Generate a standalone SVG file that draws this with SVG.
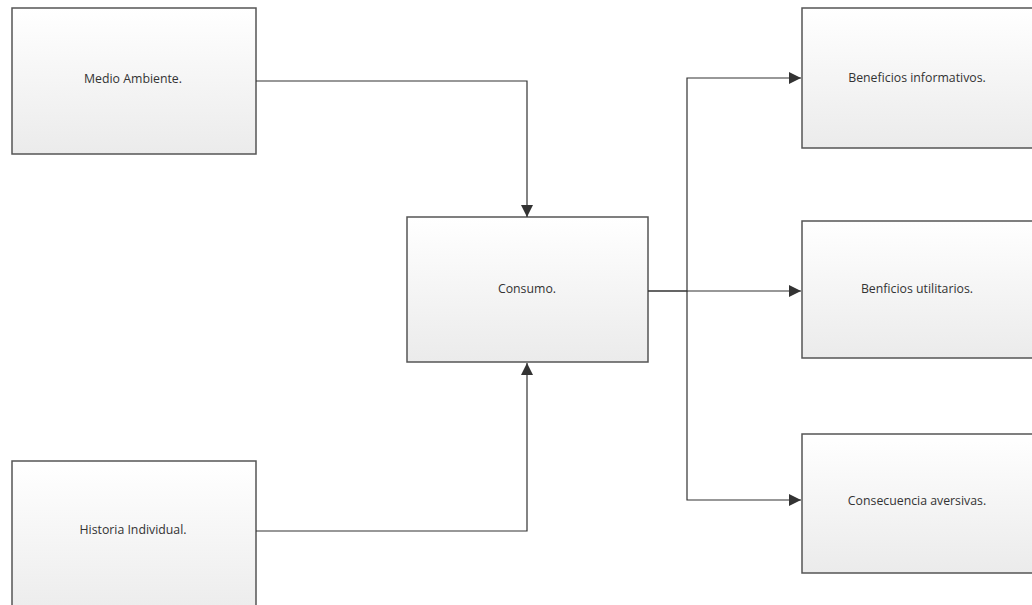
<svg xmlns="http://www.w3.org/2000/svg" width="1032" height="605" viewBox="0 0 1032 605">
<defs>
<linearGradient id="g" x1="0" y1="0" x2="0" y2="1">
<stop offset="0" stop-color="#ffffff"/>
<stop offset="1" stop-color="#ebebeb"/>
</linearGradient>
<marker id="arr" viewBox="0 0 10 10" refX="10" refY="5" markerWidth="12" markerHeight="12" markerUnits="userSpaceOnUse" orient="auto">
<path d="M0,0 L10,5 L0,10 z" fill="#333"/>
</marker>
<style>
.box{fill:url(#g);stroke:#555;stroke-width:1.5}
.lbl{font-family:"Open Sans","Noto Sans",sans-serif;font-size:12.3px;fill:#333;text-anchor:middle;dominant-baseline:middle}
.c{fill:none;stroke:#333;stroke-width:1.2;marker-end:url(#arr)}
</style>
</defs>
<rect width="1032" height="605" fill="#fff"/>
<g id="medio"><rect class="box" x="12" y="8" width="244" height="146"/><text class="lbl" x="133" y="80">Medio Ambiente.</text></g>
<g id="historia"><rect class="box" x="12" y="461" width="244" height="160"/><text class="lbl" x="133" y="531">Historia Individual.</text></g>
<g id="consumo"><rect class="box" x="407" y="217" width="241" height="145"/><text class="lbl" x="527" y="290">Consumo.</text></g>
<g id="beneficios"><rect class="box" x="802" y="8" width="240" height="140"/><text class="lbl" x="917" y="79">Beneficios informativos.</text></g>
<g id="utilitarios"><rect class="box" x="802" y="221" width="240" height="137"/><text class="lbl" x="917" y="290">Benficios utilitarios.</text></g>
<g id="aversivas"><rect class="box" x="802" y="434" width="240" height="139"/><text class="lbl" x="917" y="502">Consecuencia aversivas.</text></g>
<g id="connectors">
<path class="c" d="M256,81 H527 V217"/>
<path class="c" d="M256,531 H527 V363"/>
<path class="c" d="M648,291 H687 V78 H801"/>
<path class="c" d="M648,291 H801"/>
<path class="c" d="M687,291 V500 H801"/>
</g>
</svg>
